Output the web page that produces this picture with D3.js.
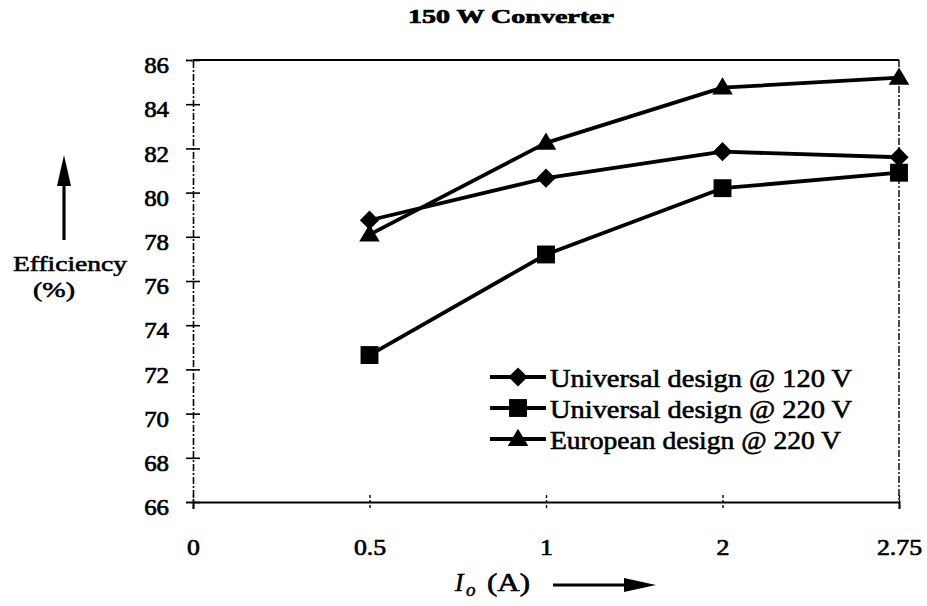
<!DOCTYPE html>
<html>
<head>
<meta charset="utf-8">
<script src="https://cdn.jsdelivr.net/npm/d3@7"></script>
<style>
  html, body { margin: 0; padding: 0; background: #fff; }
  svg { display: block; }
  text { font-family: "Liberation Serif", Tinos, "Nimbus Roman", "Times New Roman", FreeSerif, serif; fill: #000; }
</style>
</head>
<body>
<svg id="chart" width="927" height="606"></svg>
<script>
// Output current (A) categories, evenly spaced along the axis
const currents = ["0", "0.5", "1", "2", "2.75"];
const measuredAt = ["0.5", "1", "2", "2.75"];

// Efficiency (%) for each design
const universal120 = [78.75, 80.65, 81.85, 81.6];
const universal220 = [72.65, 77.2, 80.2, 80.9];
const european220 = [78.1, 82.25, 84.75, 85.2];

const seriesNames = ["Universal design @ 120 V", "Universal design @ 220 V", "European design @ 220 V"];
const yTicks = [66, 68, 70, 72, 74, 76, 78, 80, 82, 84, 86];

const svg = d3.select("#chart");
const plotLeft = 193, plotRight = 899, plotTop = 60, plotBottom = 502;

const x = d3.scalePoint().domain(currents).range([plotLeft, plotRight]).padding(0);
const y = d3.scaleLinear().domain([66, 86]).range([plotBottom, plotTop]);

// stretch a text element horizontally by a factor
function widen(sel, k) {
  sel.each(function () {
    const w = this.getComputedTextLength();
    d3.select(this).attr("textLength", w * k).attr("lengthAdjust", "spacingAndGlyphs");
  });
}

// Plot frame: solid top edge, dashed right edge
svg.append("line").attr("x1", plotLeft).attr("x2", plotRight).attr("y1", plotTop).attr("y2", plotTop)
  .attr("stroke", "#000").attr("stroke-width", 2);
svg.append("line").attr("x1", plotRight).attr("x2", plotRight).attr("y1", plotTop).attr("y2", plotBottom)
  .attr("stroke", "#000").attr("stroke-width", 1.4).attr("stroke-dasharray", "7,2,2,2");

// Y axis
const yAxis = svg.append("g").attr("transform", `translate(${plotLeft},0)`)
  .call(d3.axisLeft(y).tickValues(yTicks).tickSize(7).tickPadding(17));
yAxis.select(".domain").attr("stroke-width", 1.6).attr("stroke-dasharray", "7,2,2,2");
yAxis.selectAll(".tick line").attr("x1", -7).attr("x2", 7).attr("stroke-width", 1.6);
yAxis.selectAll(".tick text")
  .attr("dy", "0.55em")
  .style("font-size", "23px")
  .attr("stroke", "#000").attr("stroke-width", 0.7)
  .call(widen, 1.08);

// X axis
const xAxis = svg.append("g").attr("transform", `translate(0,${plotBottom})`)
  .call(d3.axisBottom(x).tickSize(7).tickPadding(30));
xAxis.select(".domain").attr("stroke-width", 2);
xAxis.selectAll(".tick line").attr("y1", -7).attr("y2", 7).attr("stroke-width", 1.4)
  .attr("stroke-dasharray", "3,2");
xAxis.selectAll(".tick text")
  .style("font-size", "23px")
  .attr("stroke", "#000").attr("stroke-width", 0.7)
  .call(widen, 1.12);

// Marker shapes
const diamond = { draw(ctx, size) { const r = Math.sqrt(size / 2); ctx.moveTo(0, -r); ctx.lineTo(r, 0); ctx.lineTo(0, r); ctx.lineTo(-r, 0); ctx.closePath(); } };
const square = { draw(ctx, size) { const h = Math.sqrt(size) / 2; ctx.rect(-h, -h, 2 * h, 2 * h); } };
const triangle = { draw(ctx, size) { const h = Math.sqrt(size) * 0.9; ctx.moveTo(0, -h * 0.62); ctx.lineTo(h * 0.62, h * 0.42); ctx.lineTo(-h * 0.62, h * 0.42); ctx.closePath(); } };

const series = [
  { name: seriesNames[0], values: universal120, sym: d3.symbol(diamond, 185) },
  { name: seriesNames[1], values: universal220, sym: d3.symbol(square, 320) },
  { name: seriesNames[2], values: european220, sym: d3.symbol(triangle, 340) }
];

const line = d3.line().x((d, i) => x(measuredAt[i])).y(d => y(d));

series.forEach(s => {
  svg.append("path").datum(s.values).attr("d", line)
    .attr("fill", "none").attr("stroke", "#000").attr("stroke-width", 3.8)
    .attr("stroke-linejoin", "round");
  svg.selectAll(null).data(s.values).join("path")
    .attr("transform", (d, i) => `translate(${x(measuredAt[i])},${y(d)})`)
    .attr("d", s.sym()).attr("fill", "#000");
});

// Legend
const legend = svg.append("g");
series.forEach((s, i) => {
  const ly = 377 + i * 31;
  legend.append("line").attr("x1", 490).attr("x2", 546).attr("y1", ly).attr("y2", ly)
    .attr("stroke", "#000").attr("stroke-width", 3.8);
  legend.append("path").attr("transform", `translate(518,${ly})`)
    .attr("d", s.sym()).attr("fill", "#000");
  legend.append("text").attr("x", 550).attr("y", ly + 10)
    .style("font-size", "26px").attr("stroke", "#000").attr("stroke-width", 0.6)
    .text(s.name).attr("textLength", i === 2 ? 291 : 302).attr("lengthAdjust", "spacingAndGlyphs");
});

// Title
svg.append("text").attr("x", 511).attr("y", 23).attr("text-anchor", "middle")
  .style("font-size", "19px").style("font-weight", "bold")
  .attr("stroke", "#000").attr("stroke-width", 0.7)
  .text("150 W Converter")
  .attr("textLength", 206).attr("lengthAdjust", "spacingAndGlyphs");

// Y axis caption with upward arrow
svg.append("text").attr("x", 70).attr("y", 271).attr("text-anchor", "middle")
  .style("font-size", "22px").attr("stroke", "#000").attr("stroke-width", 0.6)
  .text("Efficiency").attr("textLength", 114).attr("lengthAdjust", "spacingAndGlyphs");
svg.append("text").attr("x", 54).attr("y", 297).attr("text-anchor", "middle")
  .style("font-size", "22px").attr("stroke", "#000").attr("stroke-width", 0.6)
  .text("(%)").attr("textLength", 42).attr("lengthAdjust", "spacingAndGlyphs");
svg.append("line").attr("x1", 64).attr("x2", 64).attr("y1", 240).attr("y2", 180)
  .attr("stroke", "#000").attr("stroke-width", 3.2);
svg.append("path").attr("d", "M64,155 L57,186 L71,186 Z").attr("fill", "#000");

// X axis caption: I_o (A) with rightward arrow
svg.append("text").attr("x", 455).attr("y", 591)
  .style("font-size", "25px").style("font-style", "italic")
  .attr("stroke", "#000").attr("stroke-width", 0.6).text("I");
svg.append("text").attr("x", 466).attr("y", 596)
  .style("font-size", "19px").style("font-style", "italic")
  .attr("stroke", "#000").attr("stroke-width", 0.5).text("o");
svg.append("text").attr("x", 487).attr("y", 591)
  .style("font-size", "25px").attr("stroke", "#000").attr("stroke-width", 0.6)
  .text("(A)").attr("textLength", 43).attr("lengthAdjust", "spacingAndGlyphs");
svg.append("line").attr("x1", 553).attr("x2", 630).attr("y1", 585).attr("y2", 585)
  .attr("stroke", "#000").attr("stroke-width", 3.2);
svg.append("path").attr("d", "M656,585 L624,578 L624,592 Z").attr("fill", "#000");
</script>
</body>
</html>
